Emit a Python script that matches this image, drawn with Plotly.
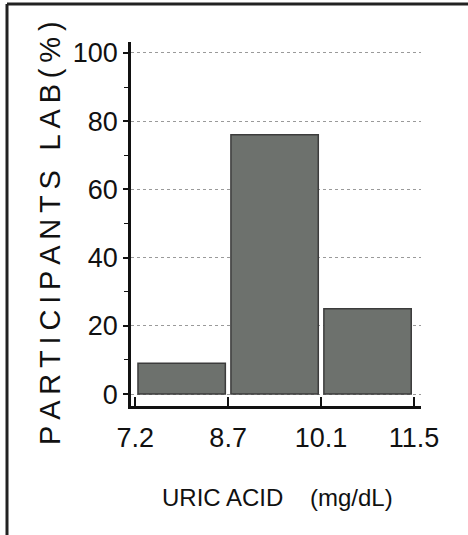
import plotly.graph_objects as go

# bin edges (mg/dL) and share of participants per bin (%)
bin_edges = ['7.2', '8.7', '10.1', '11.5']
participants_pct = [9, 76, 25]
y_ticks = [0, 20, 40, 60, 80, 100]
minor_ticks = [10, 30, 50, 70, 90]

FONT = 'Liberation Sans, Arial, sans-serif'

# plot area in pixels
W, H = 468, 535
L, R, T, B = 131, 47, 42, 129
PW, PH = W - L - R, H - T - B


def px_x(x):
    return (x - L) / PW


def px_y(y):
    return (H - B - y) / PH


bin_pos = [i + 0.5 for i in range(len(participants_pct))]
ytitle = '\u2009 \u2009'.join('\u2009'.join(w) for w in ['PARTICIPANTS', 'LAB(%)'])

fig = go.Figure()
fig.add_trace(go.Bar(
    x=bin_pos, y=participants_pct, width=0.94,
    marker=dict(color='#6d716d', line=dict(color='#3c3c3c', width=1.5)),
    showlegend=False, hoverinfo='skip',
))

fig.update_layout(
    width=W, height=H,
    margin=dict(l=L, r=R, t=T, b=B),
    paper_bgcolor='white', plot_bgcolor='white',
    font=dict(family=FONT, color='#111'),
    xaxis=dict(
        range=[-0.045, 3.075], tickmode='array',
        tickvals=list(range(len(bin_edges))), ticktext=bin_edges,
        ticks='inside', ticklen=9, tickwidth=1.5, tickcolor='#111',
        showline=True, linecolor='#111', linewidth=2.5,
        showgrid=False, zeroline=False,
        tickfont=dict(size=27), ticklabelstandoff=6,
    ),
    yaxis=dict(
        range=[-3.5, 103.2], tickmode='array', tickvals=y_ticks,
        ticks='outside', ticklen=5, tickwidth=1.5, tickcolor='#111',
        minor=dict(tickvals=minor_ticks, ticks='outside', ticklen=4,
                   tickcolor='#111', tickwidth=1.2, showgrid=False),
        showline=True, linecolor='#111', linewidth=2.5,
        showgrid=True, gridcolor='#9a9a9a', griddash='dot', gridwidth=1,
        zeroline=False, tickfont=dict(size=27),
    ),
    annotations=[
        dict(text='URIC ACID&nbsp;&nbsp;&nbsp;&nbsp;(mg/dL)', xref='paper', yref='paper',
             x=px_x(277), y=px_y(497), xanchor='center', yanchor='middle',
             showarrow=False, font=dict(size=24)),
        dict(text=ytitle, xref='paper', yref='paper',
             x=px_x(50), y=px_y(233), xanchor='center', yanchor='middle',
             textangle=-90, showarrow=False, font=dict(size=29)),
    ],
)

# frame around the panel: top and left edges
fig.add_shape(type='line', xref='paper', yref='paper',
              x0=px_x(7), x1=px_x(W), y0=px_y(4), y1=px_y(4),
              line=dict(color='#222', width=3))
fig.add_shape(type='line', xref='paper', yref='paper',
              x0=px_x(7), x1=px_x(7), y0=px_y(H), y1=px_y(4),
              line=dict(color='#222', width=3))

fig.write_html('out.html', config={'displayModeBar': False},
               post_script="document.body.style.margin='0';")
